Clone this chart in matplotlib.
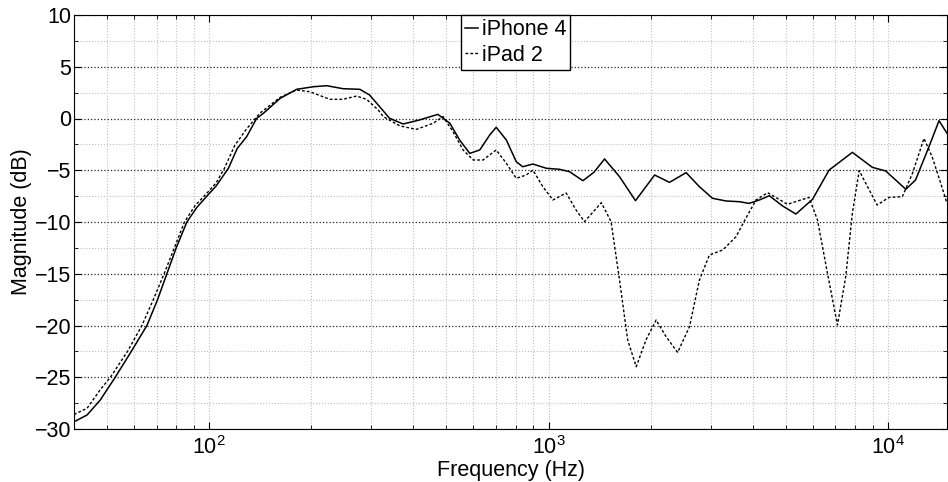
import matplotlib
matplotlib.use("Agg")
import matplotlib.pyplot as plt
from matplotlib.ticker import LogLocator, MultipleLocator

plt.rcParams['font.family'] = ['Liberation Sans', 'DejaVu Sans']
plt.rcParams['mathtext.default'] = 'regular'

# values
iphone_freq = [40, 43.7, 47.8, 52.9, 59, 65.6, 70.5, 75.1, 80, 86, 92, 98.5, 105,
               114, 121, 129, 138, 144.5, 162, 181, 203, 222, 248, 278, 297, 318,
               340, 373, 417, 472, 512, 547, 586, 627, 671, 701, 751, 803, 839,
               899, 985, 1077, 1153, 1262, 1360, 1462, 1618, 1803, 2053, 2271,
               2542, 2782, 3040, 3334, 3650, 3897, 4178, 4470, 4890, 5352, 5990,
               6705, 7850, 8990, 9845, 11280, 12050, 13200, 14130, 14915]
iphone_db = [-29.3, -28.65, -27.2, -25, -22.5, -20, -17.5, -15, -12.5, -10, -8.6,
             -7.5, -6.5, -4.81, -2.9, -1.76, 0, 0.5, 1.95, 2.82, 3.07, 3.17, 2.88,
             2.82, 2.27, 1.14, 0.02, -0.53, -0.14, 0.4, -0.46, -2.08, -3.37,
             -3.04, -1.59, -0.85, -2.08, -4.17, -4.66, -4.4, -4.81, -4.91, -5.14,
             -6.01, -5.2, -3.91, -5.62, -7.94, -5.46, -6.17, -5.23, -6.59, -7.71,
             -7.97, -8.04, -8.2, -7.87, -7.46, -8.45, -9.23, -7.81, -4.98, -3.27,
             -4.72, -5.07, -6.84, -5.94, -2.72, -0.21, -1.43]

ipad_freq = [40, 43.7, 47.8, 51.2, 57.5, 63.4, 68.5, 73.7, 79, 84.6, 91, 98, 105,
             111, 119, 129, 141, 162, 181, 198, 227, 248, 272, 291, 315, 326,
             365, 408, 457, 489, 523, 560, 600, 641, 701, 751, 803, 859, 899,
             962, 1030, 1127, 1205, 1276, 1430, 1528, 1618, 1710, 1812, 1936,
             2074, 2219, 2400, 2600, 2782, 2977, 3260, 3566, 3810, 4083, 4420,
             5056, 5850, 6197, 6630, 7095, 7504, 7850, 8220, 8700, 9286, 10070,
             11020, 11800, 12760, 13480, 14300, 14915]
ipad_db = [-28.6, -28.0, -26.2, -25, -22.5, -20, -17.5, -15, -12.5, -10, -8.4,
           -7.3, -6.2, -4.8, -2.6, -1.0, 0.5, 2.05, 2.75, 2.59, 1.85, 1.85, 2.17,
           1.85, 0.82, 0.18, -0.72, -1.05, -0.46, 0.18, -1.27, -3.04, -4.01,
           -4.01, -3.04, -4.33, -5.78, -5.46, -4.98, -6.59, -7.87, -7.2, -8.84,
           -9.97, -8.13, -9.97, -15.6, -21.4, -23.98, -21.4, -19.47, -21.08,
           -22.6, -20.12, -15.6, -13.19, -12.7, -11.42, -9.65, -7.87, -7.17,
           -8.29, -7.62, -9.81, -14.96, -19.95, -15.28, -9.16, -5.04, -6.59,
           -8.36, -7.62, -7.55, -5.3, -1.92, -3.69, -6.27, -8.2]

fig = plt.figure(figsize=(9.48, 4.82), dpi=100)
ax = fig.add_axes([74 / 948, 1 - 429 / 482, 873 / 948, 414 / 482])

ax.semilogx(iphone_freq, iphone_db, color='black', lw=1.1, label='iPhone 4')
ax.semilogx(ipad_freq, ipad_db, color='black', lw=1.0, linestyle=(0, (2, 1.5)),
            label='iPad 2')

ax.set_xlim(40, 14915)
ax.set_ylim(-30, 10)
ax.yaxis.set_major_locator(MultipleLocator(5))
ax.yaxis.set_minor_locator(MultipleLocator(2.5))
ax.xaxis.set_major_locator(LogLocator(base=10))
ax.xaxis.set_minor_locator(LogLocator(base=10, subs=range(2, 10)))

ax.grid(which='major', axis='y', color='0.15', linestyle=':', lw=0.9)
ax.grid(which='minor', axis='y', color='0.75', linestyle=':', lw=0.8)
ax.grid(which='both', axis='x', color='0.75', linestyle=':', lw=0.8)
ax.set_axisbelow(True)

ax.tick_params(which='both', direction='in', top=True, right=True, labelsize=15.5, pad=2)
ax.tick_params(which='major', length=5)
ax.tick_params(which='minor', length=3)
ax.tick_params(axis='x', pad=5)

ax.set_xlabel('Frequency (Hz)', fontsize=15.5, labelpad=1)
ax.set_ylabel('Magnitude (dB)', fontsize=15.5, labelpad=2)

leg = ax.legend(loc='upper center', bbox_to_anchor=(0.506, 1.0), fontsize=15.5,
                handlelength=0.6, handletextpad=0.15, borderpad=0.2,
                labelspacing=0.2, borderaxespad=0, fancybox=False,
                framealpha=1, edgecolor='black')
leg.get_frame().set_linewidth(1.0)

fig.savefig('out.png', dpi=100)
